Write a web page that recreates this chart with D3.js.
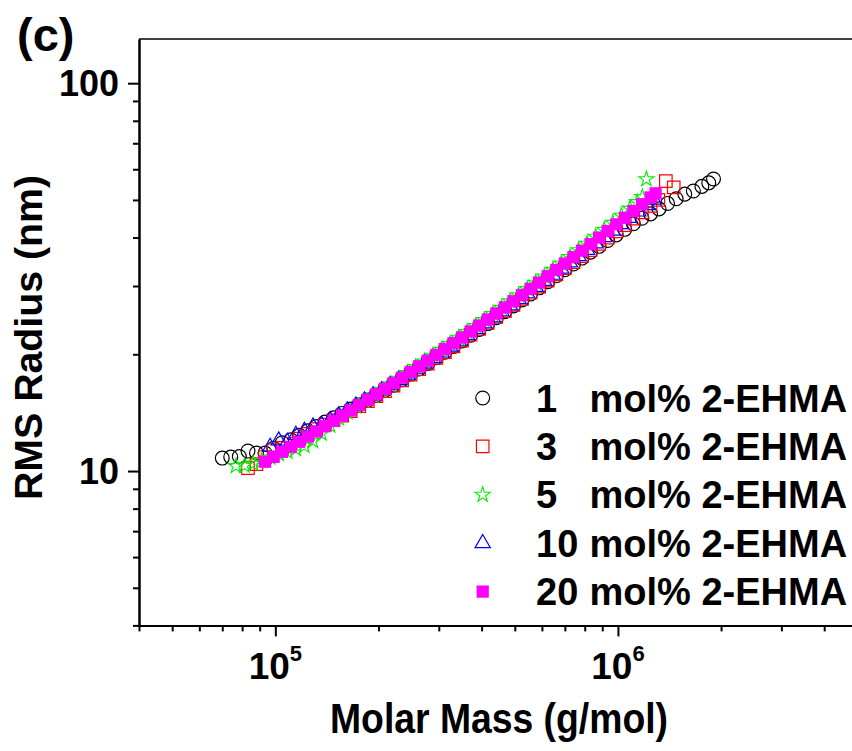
<!DOCTYPE html>
<html><head><meta charset="utf-8">
<script src="https://cdn.jsdelivr.net/npm/d3@7"></script>
<style>body{margin:0;background:#fff}svg{display:block}</style>
</head><body>
<svg id="chart" width="852" height="751"></svg>
<script>
// ---- data (Molar mass in g/mol, RMS radius in nm) ----
const legendLabels = ["1", "3", "5", "10", "20"];
const legendSuffix = "mol% 2-EHMA";

const mass1 = [70000, 74100, 78500, 83200, 88100, 93300, 98900, 104700, 110900, 117500, 124500, 131800, 139600, 147900, 156700, 166000, 175800, 186200, 197200, 208900, 221300, 234400, 248300, 263000, 278600, 295100, 312600, 331100, 350800, 371500, 393600, 416900, 441600, 467700, 495500, 524800, 555900, 588800, 623700, 660700, 699800, 741300, 785200, 831800, 881000, 933300, 988600, 1047000, 1109000, 1175000, 1245000, 1318000, 1396000, 1479000, 1567000, 1660000, 1758000, 1841000, 1901000];
const radius1 = [10.80, 10.87, 10.90, 11.26, 11.13, 11.13, 11.45, 11.83, 12.04, 12.36, 12.70, 13.03, 13.38, 13.72, 14.08, 14.45, 14.83, 15.22, 15.67, 16.15, 16.65, 17.19, 17.76, 18.34, 18.95, 19.59, 20.25, 20.94, 21.66, 22.41, 23.19, 24.00, 24.85, 25.74, 26.66, 27.62, 28.62, 29.67, 30.77, 31.87, 33.03, 34.19, 35.41, 36.68, 37.96, 39.30, 40.64, 42.00, 43.41, 44.87, 46.03, 47.42, 48.98, 50.35, 51.76, 52.72, 54.20, 55.34, 56.62];

const mass3 = [83200, 88100, 93300, 98900, 104700, 110900, 117500, 124500, 131800, 139600, 147900, 156700, 166000, 175800, 186200, 197200, 208900, 221300, 234400, 248300, 263000, 278600, 295100, 312600, 331100, 350800, 371500, 393600, 416900, 441600, 467700, 495500, 524800, 555900, 588800, 623700, 660700, 699800, 741300, 785200, 831800, 881000, 933300, 988600, 1047000, 1109000, 1175000, 1245000, 1312000, 1380000, 1455000];
const radius3 = [10.18, 10.42, 10.86, 11.32, 11.48, 11.76, 12.12, 12.47, 12.83, 13.17, 13.52, 13.89, 14.27, 14.69, 15.14, 15.60, 16.08, 16.60, 17.13, 17.72, 18.30, 18.93, 19.57, 20.25, 20.97, 21.68, 22.46, 23.24, 24.08, 24.96, 25.85, 26.81, 27.78, 28.82, 29.88, 30.98, 32.13, 33.33, 34.54, 35.81, 37.14, 38.54, 39.98, 41.49, 43.07, 44.73, 46.45, 48.26, 50.0, 55.9, 53.9];

const mass5 = [76700, 81300, 86100, 91200, 96600, 102300, 108400, 114800, 121600, 128800, 136500, 144500, 153100, 162200, 171800, 182000, 192800, 204200, 216300, 229100, 242700, 257000, 272300, 288400, 305500, 323600, 342800, 363100, 384600, 407400, 431500, 457100, 484200, 512900, 543300, 575400, 609500, 645700, 683900, 724400, 767400, 812800, 861000, 912000, 966100, 1023000, 1084000, 1138000, 1178000, 1211000];
const radius5 = [10.30, 10.33, 10.45, 10.61, 10.83, 11.06, 11.23, 11.40, 11.62, 11.95, 12.50, 13.10, 13.68, 14.18, 14.68, 15.19, 15.69, 16.20, 16.74, 17.30, 17.89, 18.54, 19.17, 19.84, 20.53, 21.26, 22.06, 22.84, 23.66, 24.52, 25.41, 26.35, 27.38, 28.40, 29.47, 30.58, 31.74, 33.02, 34.29, 35.63, 37.10, 38.57, 40.18, 41.88, 43.65, 45.52, 47.50, 49.36, 50.84, 56.57];

const mass10 = [96600, 102300, 108400, 114800, 121600, 128800, 136500, 144500, 153100, 162200, 171800, 182000, 192800, 204200, 216300, 229100, 242700, 257000, 272300, 288400, 305500, 323600, 342800, 363100, 384600, 407400, 431500, 457100, 484200, 512900, 543300, 575400, 609500, 645700, 683900, 724400, 767400, 812800, 861000, 912000, 966100, 1023000, 1084000, 1148000, 1216000, 1274000];
const radius10 = [11.53, 11.98, 11.88, 12.38, 12.68, 13.02, 13.13, 13.51, 13.90, 14.31, 14.74, 15.19, 15.65, 16.12, 16.63, 17.14, 17.70, 18.29, 18.91, 19.54, 20.20, 20.91, 21.66, 22.40, 23.20, 24.02, 24.89, 25.80, 26.73, 27.72, 28.72, 29.82, 30.91, 32.05, 33.24, 34.49, 35.80, 37.17, 38.59, 40.09, 41.65, 43.28, 44.94, 46.66, 48.47, 50.06];

const mass20 = [93300, 98900, 104700, 110900, 117500, 124500, 131800, 139600, 147900, 156700, 166000, 175800, 186200, 197200, 208900, 221300, 234400, 248300, 263000, 278600, 295100, 312600, 331100, 350800, 371500, 393600, 416900, 441600, 467700, 495500, 524800, 555900, 588800, 623700, 660700, 699800, 741300, 785200, 831800, 881000, 933300, 988600, 1047000, 1109000, 1175000, 1245000, 1288000];
const radius20 = [10.57, 10.88, 11.21, 11.55, 11.90, 12.27, 12.65, 13.05, 13.46, 13.89, 14.33, 14.80, 15.28, 15.78, 16.30, 16.85, 17.41, 18.00, 18.62, 19.26, 19.93, 20.63, 21.36, 22.11, 22.90, 23.72, 24.58, 25.48, 26.42, 27.40, 28.42, 29.49, 30.61, 31.78, 33.00, 34.27, 35.60, 37.00, 38.46, 39.99, 41.59, 43.25, 44.99, 46.82, 48.74, 50.75, 52.00];

const xMajorTicks = [1e5, 1e6];
const xTickBase = ["10", "10"];
const xTickExp = ["5", "6"];
const xMinorTicks = [4e4, 5e4, 6e4, 7e4, 8e4, 9e4, 2e5, 3e5, 4e5, 5e5, 6e5, 7e5, 8e5, 9e5, 2e6, 3e6, 4e6, 5e6];
const yMajorTicks = [10, 100];
const yTickLabels = ["10", "100"];
const yMinorTicks = [4, 5, 6, 7, 8, 9, 20, 30, 40, 50, 60, 70, 80, 90];
const xTitle = "Molar Mass (g/mol)";
const yTitle = "RMS Radius (nm)";
const panelLabel = "(c)";

// ---- build ----
const FONT = "'Liberation Sans', Arial, Helvetica, sans-serif";
const svg = d3.select("#chart");
const x = d3.scaleLog().domain([4e4, 5e6]).range([139, 857.4]);
const y = d3.scaleLog().domain([4, 130]).range([625.4, 39]);

const series = [
  {name: legendLabels[0], m: mass1, r: radius1, type: d3.symbolCircle, size: 150, fill: "none", stroke: "#000000", sw: 1.2},
  {name: legendLabels[1], m: mass3, r: radius3, type: d3.symbolSquare, size: 156, fill: "none", stroke: "#ff0000", sw: 1.2},
  {name: legendLabels[2], m: mass5, r: radius5, type: d3.symbolStar, size: 72, fill: "none", stroke: "#00ee00", sw: 1.1},
  {name: legendLabels[3], m: mass10, r: radius10, type: d3.symbolTriangle, size: 100, fill: "none", stroke: "#0000ff", sw: 1.2},
  {name: legendLabels[4], m: mass20, r: radius20, type: d3.symbolSquare, size: 150, fill: "#ff00ff", stroke: "none", sw: 0}
];

// data points
series.forEach(s => {
  const pts = s.m.map((mv, i) => [mv, s.r[i]]);
  svg.append("g").selectAll("path").data(pts).join("path")
    .attr("d", d3.symbol().type(s.type).size(s.size))
    .attr("transform", d => `translate(${x(d[0])},${y(d[1])})`)
    .attr("fill", s.fill).attr("stroke", s.stroke).attr("stroke-width", s.sw);
});

// top frame line
svg.append("line").attr("x1", 139).attr("x2", 857).attr("y1", 39).attr("y2", 39)
  .attr("stroke", "#000").attr("stroke-width", 1.5);

// x axis
const gx = svg.append("g").attr("transform", "translate(0,625.4)");
gx.append("g").call(d3.axisBottom(x).tickValues(xMinorTicks).tickSize(6).tickSizeOuter(0).tickFormat(""));
gx.append("g").call(d3.axisBottom(x).tickValues(xMajorTicks).tickSize(11).tickSizeOuter(0).tickFormat(""));
gx.selectAll("path.domain").attr("stroke-width", 2);
gx.selectAll(".tick line").attr("stroke-width", 2);
xMajorTicks.forEach((v, i) => {
  const t = svg.append("text").attr("x", x(v)).attr("y", 679).attr("text-anchor", "middle")
    .attr("font-family", FONT).attr("font-weight", "bold").attr("font-size", 37);
  t.append("tspan").text(xTickBase[i]);
  t.append("tspan").attr("font-size", 22).attr("dy", -18).text(xTickExp[i]);
});

// y axis
const gy = svg.append("g").attr("transform", "translate(139,0)");
gy.append("g").call(d3.axisLeft(y).tickValues(yMinorTicks).tickSize(6).tickSizeOuter(0).tickFormat(""));
gy.append("g").call(d3.axisLeft(y).tickValues(yMajorTicks).tickSize(11).tickSizeOuter(0).tickFormat(""));
gy.selectAll("path.domain").attr("stroke-width", 2);
gy.selectAll(".tick line").attr("stroke-width", 2);
yMajorTicks.forEach((v, i) => {
  svg.append("text").attr("x", 119).attr("y", y(v) + 13).attr("text-anchor", "end")
    .attr("font-family", FONT).attr("font-weight", "bold").attr("font-size", 37)
    .attr("textLength", yTickLabels[i].length * 20).attr("lengthAdjust", "spacingAndGlyphs")
    .text(yTickLabels[i]);
});

// axis titles
svg.append("text").attr("x", 499).attr("y", 733).attr("text-anchor", "middle")
  .attr("font-family", FONT).attr("font-weight", "bold").attr("font-size", 42)
  .attr("textLength", 338).attr("lengthAdjust", "spacingAndGlyphs").text(xTitle);
svg.append("text").attr("transform", "translate(41.5,337.5) rotate(-90)").attr("text-anchor", "middle")
  .attr("font-family", FONT).attr("font-weight", "bold").attr("font-size", 38)
  .attr("textLength", 325).attr("lengthAdjust", "spacingAndGlyphs").text(yTitle);

// panel label
svg.append("text").attr("x", 17).attr("y", 51)
  .attr("font-family", FONT).attr("font-weight", "bold").attr("font-size", 47).text(panelLabel);

// legend
const legend = svg.append("g");
series.forEach((s, i) => {
  const cy = 398 + i * 48.4;
  legend.append("path").attr("d", d3.symbol().type(s.type).size(s.size))
    .attr("transform", `translate(482.7,${cy})`)
    .attr("fill", s.fill).attr("stroke", s.stroke).attr("stroke-width", s.sw);
  const t = legend.append("text").attr("y", cy + 13.5)
    .attr("font-family", FONT).attr("font-weight", "bold").attr("font-size", 38);
  t.append("tspan").attr("x", 536).text(s.name + " ");
  t.append("tspan").attr("x", 589.5).text(legendSuffix);
});
</script>
</body></html>
